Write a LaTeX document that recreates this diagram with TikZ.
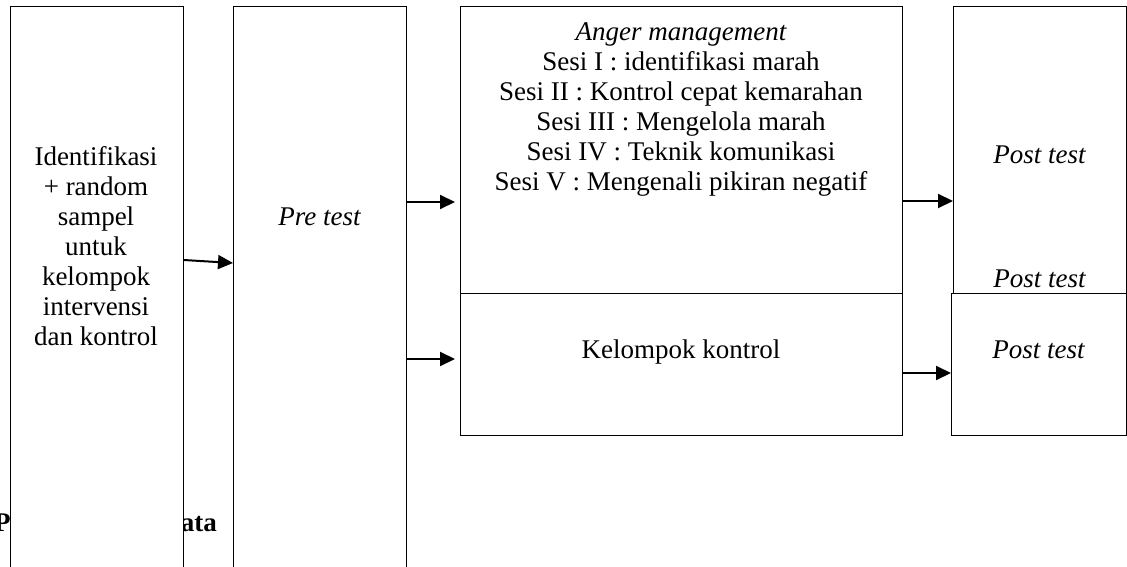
\documentclass[tikz,border=0pt]{standalone}
\usepackage{fontspec}
\setmainfont{Liberation Serif}
\usetikzlibrary{arrows.meta}
\tikzset{
  box/.style={draw=black, line width=1.3pt, fill=white, inner sep=0pt, anchor=north west},
  arr/.style={line width=2pt, -{Triangle[length=15pt,width=14pt]}},
  txt/.style={inner sep=0pt, font=\fontsize{27}{30}\selectfont},
}
\begin{document}
\begin{tikzpicture}[x=1pt,y=-1pt]
\useasboundingbox (0,0) rectangle (1127,567);
\clip (0,0) rectangle (1127,567);
% heading partly hidden behind the boxes
\node[txt, font=\fontsize{27}{30}\selectfont\bfseries, anchor=base east] (head) at (217,531) {Pengumpulan Data};
% boxes
\node[box, minimum width=173pt, minimum height=600pt] (b1) at (9.5,6) {};
\node[box, minimum width=173pt, minimum height=600pt] (b2) at (233,6) {};
\node[box, minimum width=442pt, minimum height=286.5pt] (b3) at (460,6) {};
\node[box, minimum width=442pt, minimum height=142.5pt] (b3b) at (460,292.5) {};
\node[box, minimum width=173pt, minimum height=286.5pt] (b4) at (953,6) {};
\node[box, minimum width=175pt, minimum height=142.5pt] (b4b) at (951,292.5) {};
% texts
\node[txt, anchor=base] (t1) at (96,165) {\begin{tabular}[t]{@{}c@{}}Identifikasi\\+ random\\sampel\\untuk\\kelompok\\intervensi\\dan kontrol\end{tabular}};
\node[txt, anchor=base] (t2) at (319.5,225) {\itshape Pre test};
\node[txt, anchor=base] (t3) at (681,41) {\begin{tabular}[t]{@{}c@{}}\itshape Anger management\\Sesi I : identifikasi marah\\Sesi II : Kontrol cepat kemarahan\\Sesi III : Mengelola marah\\Sesi IV : Teknik komunikasi\\Sesi V : Mengenali pikiran negatif\end{tabular}};
\node[txt, anchor=base] (t3b) at (681,358) {Kelompok kontrol};
\node[txt, anchor=base] (t4) at (1039.5,164) {\itshape Post test};
\node[txt, anchor=base] (t4x) at (1039.5,287) {\itshape Post test};
\node[txt, anchor=base] (t4b) at (1038.5,358) {\itshape Post test};
% arrows
\draw[arr] (b1.east |- 0,260) -- (b2.west |- 0,263);
\draw[arr, shorten >=5pt] (b2.east |- 0,202) -- (b3.west |- 0,202);
\draw[arr, shorten >=5pt] (b2.east |- 0,359) -- (b3b.west |- 0,359);
\draw[arr] (b3.east |- 0,201) -- (b4.west |- 0,201);
\draw[arr] (b3b.east |- 0,373) -- (b4b.west |- 0,373);
\end{tikzpicture}
\end{document}
